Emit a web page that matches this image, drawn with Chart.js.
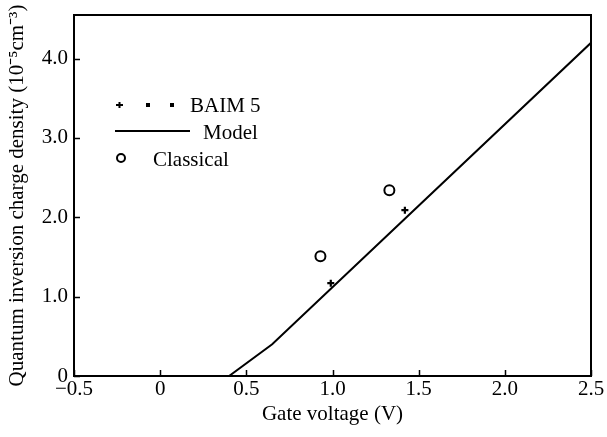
<!DOCTYPE html>
<html>
<head>
<meta charset="utf-8">
<script src="https://cdn.jsdelivr.net/npm/chart.js@4.4.1/dist/chart.umd.min.js"></script>
<style>
html,body{margin:0;padding:0;background:#fff;}
#wrap{width:607px;height:437px;position:relative;}
</style>
</head>
<body>
<div id="wrap"><canvas id="c" width="607" height="437"></canvas></div>
<script>
const modelX = [0.40, 0.65, 2.50];
const modelY = [0.00, 0.40, 4.20];
const baimX = [0.99, 1.42];
const baimY = [1.17, 2.09];
const classicalX = [0.93, 1.33];
const classicalY = [1.51, 2.34];
const xTicks = [-0.5, 0, 0.5, 1.0, 1.5, 2.0, 2.5];
const yTicks = [0, 1.0, 2.0, 3.0, 4.0];
const seriesNames = ['BAIM 5', 'Model', 'Classical'];
const xTitle = 'Gate voltage (V)';
const yTitle = 'Quantum inversion charge density (10\u207B\u2075cm\u207B\u00B3)';

const FONT = 'Liberation Serif, Times New Roman, serif';
const FS = 21;
const pts = (xs, ys) => xs.map((x, i) => ({x, y: ys[i]}));

function fmtX(v){ if (v === 0) return '0'; if (v < 0) return '\u2212' + Math.abs(v).toFixed(1); return v.toFixed(1); }
function fmtY(v){ return v === 0 ? '0' : v.toFixed(1); }

const framePlugin = {
  id: 'frame',
  afterDraw(chart){
    const {ctx, chartArea: a, scales} = chart;
    ctx.save();
    ctx.strokeStyle = '#000';
    ctx.lineWidth = 2;
    ctx.strokeRect(a.left, a.top, a.right - a.left, a.bottom - a.top);
    ctx.lineWidth = 1.5;
    ctx.beginPath();
    xTicks.forEach(v => {
      const px = Math.round(scales.x.getPixelForValue(v)) + 0.5;
      ctx.moveTo(px, a.bottom); ctx.lineTo(px, a.bottom - 6);
    });
    yTicks.forEach(v => {
      const py = Math.round(scales.y.getPixelForValue(v)) + 0.5;
      ctx.moveTo(a.left, py); ctx.lineTo(a.left + 6, py);
    });
    ctx.stroke();

    // legend
    ctx.fillStyle = '#000';
    ctx.font = FS + 'px ' + FONT;
    ctx.textBaseline = 'middle';
    ctx.textAlign = 'left';
    // BAIM 5
    const ly1 = 105;
    ctx.lineWidth = 2;
    ctx.beginPath();
    ctx.moveTo(116, ly1); ctx.lineTo(123, ly1);
    ctx.moveTo(119.5, ly1 - 3); ctx.lineTo(119.5, ly1 + 3);
    ctx.stroke();
    ctx.fillRect(146, ly1 - 2, 4, 4);
    ctx.fillRect(170, ly1 - 2, 4, 4);
    ctx.fillText(seriesNames[0], 190, ly1 + 1);
    // Model
    const ly2 = 131;
    ctx.beginPath();
    ctx.moveTo(115, ly2); ctx.lineTo(190, ly2);
    ctx.stroke();
    ctx.fillText(seriesNames[1], 203, ly2 + 2);
    // Classical
    const ly3 = 158;
    ctx.beginPath();
    ctx.arc(121, ly3, 4, 0, Math.PI * 2);
    ctx.stroke();
    ctx.fillText(seriesNames[2], 153, ly3 + 2);
    ctx.restore();
  }
};

new Chart(document.getElementById('c'), {
  type: 'scatter',
  data: {
    datasets: [
      {
        label: seriesNames[1],
        data: pts(modelX, modelY),
        showLine: true,
        borderColor: '#000',
        borderWidth: 2,
        pointRadius: 0,
        tension: 0,
        fill: false
      },
      {
        label: seriesNames[0],
        data: pts(baimX, baimY),
        showLine: false,
        pointStyle: 'cross',
        pointRadius: 3.5,
        borderColor: '#000',
        borderWidth: 2.2
      },
      {
        label: seriesNames[2],
        data: pts(classicalX, classicalY),
        showLine: false,
        pointStyle: 'circle',
        pointRadius: 5,
        backgroundColor: 'rgba(0,0,0,0)',
        borderColor: '#000',
        borderWidth: 2
      }
    ]
  },
  options: {
    responsive: false,
    animation: false,
    events: [],
    layout: { padding: { top: 15, right: 16, left: 0, bottom: 0 } },
    plugins: { legend: { display: false }, tooltip: { enabled: false } },
    scales: {
      x: {
        type: 'linear',
        min: -0.5, max: 2.5,
        afterBuildTicks(s){ s.ticks = xTicks.map(v => ({value: v})); },
        afterFit(s){ s.height = 61; },
        grid: { display: false, drawTicks: false },
        border: { display: false },
        ticks: {
          color: '#000', font: { family: FONT, size: FS }, padding: 1,
          maxRotation: 0, autoSkip: false,
          callback: v => fmtX(v)
        },
        title: {
          display: true, text: xTitle, color: '#000',
          font: { family: FONT, size: FS }, padding: { top: 0, bottom: 10 }
        }
      },
      y: {
        type: 'linear',
        min: 0, max: 4.55,
        afterBuildTicks(s){ s.ticks = yTicks.map(v => ({value: v})); },
        afterFit(s){ s.width = 74; s.paddingTop = 0; s.paddingBottom = 0; },
        grid: { display: false, drawTicks: false },
        border: { display: false },
        ticks: {
          color: '#000', font: { family: FONT, size: FS }, padding: 6,
          autoSkip: false,
          callback: v => fmtY(v)
        },
        title: {
          display: true, text: yTitle, color: '#000',
          font: { family: FONT, size: FS }, padding: { top: 5, bottom: 0 }
        }
      }
    }
  },
  plugins: [framePlugin]
});
</script>
</body>
</html>
